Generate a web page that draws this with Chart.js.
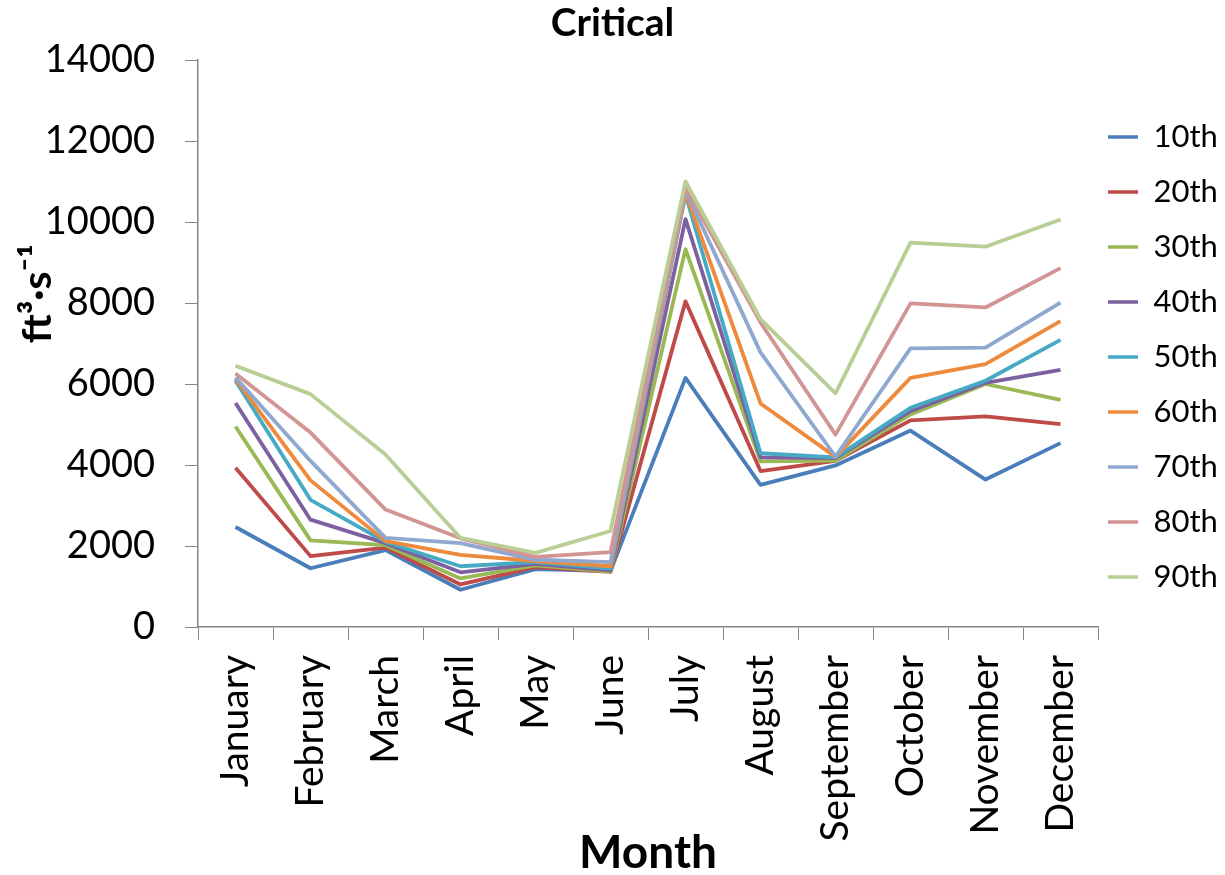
<!DOCTYPE html>
<html>
<head>
<meta charset="utf-8">
<script src="https://cdn.jsdelivr.net/npm/chart.js@4.4.1/dist/chart.umd.min.js"></script>
<style>
  html, body { margin: 0; padding: 0; background: #ffffff; }
  #wrap { width: 1225px; height: 875px; }
</style>
</head>
<body>
<div id="wrap"><canvas id="c" width="1225" height="875"></canvas></div>
<script>
const months = ['January','February','March','April','May','June','July','August','September','October','November','December'];
const seriesNames = ['10th','20th','30th','40th','50th','60th','70th','80th','90th'];
const yTicks = [0, 2000, 4000, 6000, 8000, 10000, 12000, 14000];

const p10 = [2470, 1450, 1900,  920, 1430, 1380,  6150, 3510, 3990, 4850, 3640, 4540];
const p20 = [3930, 1750, 1960, 1050, 1480, 1360,  8040, 3850, 4100, 5100, 5200, 5010];
const p30 = [4950, 2140, 2020, 1200, 1520, 1370,  9330, 4090, 4110, 5250, 6000, 5610];
const p40 = [5530, 2650, 2070, 1350, 1560, 1400, 10070, 4190, 4170, 5330, 6030, 6350];
const p50 = [6080, 3140, 2100, 1500, 1600, 1440, 10680, 4290, 4190, 5410, 6080, 7090];
const p60 = [6120, 3620, 2120, 1780, 1630, 1500, 10720, 5520, 4200, 6150, 6490, 7550];
const p70 = [6160, 4100, 2200, 2070, 1660, 1600, 10780, 6780, 4210, 6880, 6900, 8010];
const p80 = [6260, 4800, 2900, 2190, 1730, 1850, 10850, 7520, 4750, 7990, 7890, 8860];
const p90 = [6450, 5750, 4260, 2200, 1830, 2370, 11000, 7600, 5770, 9490, 9390, 10060];

const seriesValues = [p10, p20, p30, p40, p50, p60, p70, p80, p90];
const seriesColors = ['#4A7EBB','#BE4B48','#98B954','#7D60A0','#46AAC5','#EE8A3C','#8FA8D0','#D29593','#B8CE94'];

const AXIS_COLOR = '#868686';
const FONT = 'Lato, "Open Sans", "Liberation Sans", sans-serif';

const datasets = seriesNames.map((name, i) => ({
  label: name,
  data: seriesValues[i],
  borderColor: seriesColors[i],
  backgroundColor: seriesColors[i],
  borderWidth: 3.8,
  borderJoinStyle: 'round',
  pointRadius: 0,
  pointHoverRadius: 0,
  tension: 0,
  fill: false,
  order: seriesNames.length - i
}));

const layoutFix = {
  id: 'layoutFix',
  beforeLayout(chart) {
    const lg = chart.legend;
    if (lg && !lg._fixed) {
      const orig = lg.fit.bind(lg);
      lg.fit = function () { orig(); this.width = 127; };
      lg._fixed = true;
    }
  }
};

new Chart(document.getElementById('c'), {
  type: 'line',
  data: { labels: months, datasets: datasets },
  plugins: [layoutFix],
  options: {
    responsive: false,
    animation: false,
    devicePixelRatio: 1,
    layout: { padding: 0 },
    plugins: {
      tooltip: { enabled: false },
      title: {
        display: true,
        text: 'Critical',
        color: '#000',
        font: { family: FONT, size: 39, weight: 'bold', lineHeight: 1.1 },
        padding: { top: 2, bottom: 15.1 }
      },
      legend: {
        position: 'right',
        align: 'start',
        title: { display: true, text: '', font: { size: 10, lineHeight: 1 }, padding: { top: 101.5, bottom: 0 } },
        labels: {
          color: '#000',
          font: { family: FONT, size: 31, lineHeight: 45 / 31 },
          boxWidth: 30,
          boxHeight: 3.5,
          padding: 10,
          sort: (a, b) => a.datasetIndex - b.datasetIndex,
          generateLabels(chart) {
            const items = Chart.defaults.plugins.legend.labels.generateLabels(chart);
            return items.map(it => Object.assign(it, {
              text: [it.text],
              fillStyle: it.strokeStyle,
              lineWidth: 0
            }));
          }
        }
      }
    },
    scales: {
      x: {
        type: 'category',
        offset: true,
        grid: { display: true, drawOnChartArea: false, drawTicks: true, tickLength: 13, offset: true, color: AXIS_COLOR, lineWidth: 1 },
        border: { display: true, color: AXIS_COLOR, width: 1.5 },
        ticks: {
          color: '#000',
          font: { family: FONT, size: 39 },
          maxRotation: 90,
          minRotation: 90,
          autoSkip: false,
          padding: 15
        },
        title: {
          display: true,
          text: 'Month',
          color: '#000',
          font: { family: FONT, size: 46, weight: 'bold', lineHeight: 0.96 },
          padding: { top: 0, bottom: 0 }
        },
        afterFit(scale) { scale.height = 248; }
      },
      y: {
        min: 0,
        max: 14000,
        afterBuildTicks(scale) { scale.ticks = yTicks.map(v => ({ value: v })); },
        grid: { display: true, drawOnChartArea: false, drawTicks: true, tickLength: 13, color: AXIS_COLOR, lineWidth: 1 },
        border: { display: true, color: AXIS_COLOR, width: 1.5 },
        ticks: {
          color: '#000',
          font: { family: FONT, size: 38 },
          padding: 30,
          callback: (v) => String(v)
        },
        title: {
          display: true,
          text: '          ft\u00B3\u00B7s\u207B\u00B9',
          color: '#000',
          font: { family: FONT, size: 41, weight: 'bold', lineHeight: 1.2 },
          padding: { top: 13, bottom: 0 }
        },
        afterFit(scale) { scale.width = 198; }
      }
    }
  }
});
</script>
</body>
</html>
